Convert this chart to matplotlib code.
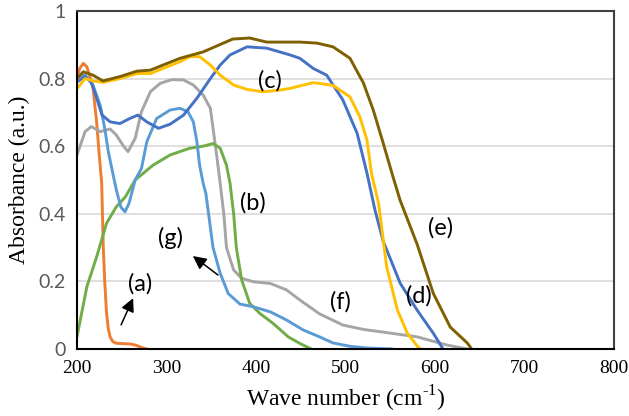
import numpy as np
import matplotlib.pyplot as plt

# Absorbance spectra, one curve per sample
xa = [200, 203, 207, 211, 215, 218, 222, 225, 227.6, 229.4, 231, 233, 235, 237, 240, 244, 259, 265, 270, 275, 278]
ya = [0.80, 0.83, 0.845, 0.835, 0.80, 0.77, 0.67, 0.57, 0.49, 0.30, 0.20, 0.106, 0.06, 0.036, 0.022, 0.017, 0.015, 0.012, 0.007, 0.002, 0]

xb = [200, 209, 218, 226, 231, 235, 240, 244, 249, 253.6, 258, 265, 272, 278, 289, 304, 315, 324, 330, 334, 337,
      341, 344, 347, 352, 360, 369, 382, 397, 416, 434, 453, 471, 486, 505, 524, 553]
yb = [0.805, 0.81, 0.78, 0.72, 0.653, 0.584, 0.52, 0.47, 0.42, 0.406, 0.43, 0.5, 0.534, 0.613, 0.682, 0.707, 0.712, 0.702, 0.672, 0.613, 0.544,
      0.49, 0.46, 0.40, 0.30, 0.224, 0.164, 0.133, 0.125, 0.11, 0.086, 0.056, 0.036, 0.018, 0.008, 0.003, 0]

xc = [200, 209, 218, 229, 248, 267, 282, 296, 315, 326, 337, 349, 360, 375, 390, 408, 427, 438, 464, 486, 505, 516,
      524, 529, 537, 546, 558, 569, 581, 584]
yc = [0.77, 0.80, 0.793, 0.789, 0.80, 0.815, 0.815, 0.83, 0.85, 0.865, 0.865, 0.84, 0.81, 0.781, 0.768, 0.761, 0.766, 0.771, 0.788, 0.78, 0.746, 0.687,
      0.618, 0.52, 0.43, 0.243, 0.115, 0.047, 0.006, 0]

xd = [200, 209, 216, 222, 228, 237, 248, 259, 268, 278, 291, 304, 319, 334, 349, 360, 371, 390, 412, 438, 449, 464,
      479, 497, 513, 524, 533, 542, 561, 580, 598, 609]
yd = [0.79, 0.806, 0.79, 0.742, 0.692, 0.672, 0.667, 0.682, 0.692, 0.672, 0.653, 0.665, 0.692, 0.742, 0.80, 0.84, 0.87, 0.894, 0.89, 0.87, 0.86, 0.83,
      0.81, 0.737, 0.638, 0.52, 0.41, 0.32, 0.195, 0.115, 0.047, 0]

xe = [200, 207, 218, 229, 248, 267, 282, 296, 315, 341, 374, 393, 412, 449, 468, 486, 505, 520, 531, 542, 553, 561,
      580, 598, 617, 636, 641]
ye = [0.80, 0.82, 0.81, 0.793, 0.806, 0.822, 0.825, 0.84, 0.86, 0.879, 0.917, 0.92, 0.908, 0.908, 0.905, 0.894, 0.86, 0.787, 0.707, 0.61, 0.51, 0.44,
      0.31, 0.165, 0.065, 0.018, 0]

xf = [200, 209, 216, 226, 237, 244, 252, 257, 265, 272, 282, 293, 306, 319, 330, 341, 349, 352, 356, 360, 364, 367,
      375, 384, 397, 416, 434, 449, 471, 497, 520, 542, 580, 613, 636]
yf = [0.574, 0.643, 0.658, 0.643, 0.651, 0.633, 0.60, 0.584, 0.623, 0.702, 0.761, 0.786, 0.797, 0.796, 0.781, 0.751, 0.712, 0.653, 0.574, 0.49, 0.40, 0.30,
      0.234, 0.209, 0.199, 0.194, 0.175, 0.145, 0.104, 0.071, 0.058, 0.05, 0.036, 0.012, 0]

xg = [200, 211, 222, 233, 244, 254, 265, 285, 304, 326, 341, 352, 360, 367, 371, 375, 378, 384, 393, 404, 419, 436,
      450, 462]
yg = [0.036, 0.184, 0.273, 0.372, 0.421, 0.45, 0.50, 0.544, 0.574, 0.594, 0.60, 0.608, 0.594, 0.544, 0.49, 0.40, 0.30, 0.204, 0.135, 0.106, 0.076, 0.036,
      0.015, 0]

series = [
    (xa, ya, '#ED7D31'),
    (xf, yf, '#A5A5A5'),
    (xg, yg, '#70AD47'),
    (xb, yb, '#5B9BD5'),
    (xd, yd, '#4472C4'),
    (xc, yc, '#FFC000'),
    (xe, ye, '#7F6000'),
]

labels = ['(a)', '(b)', '(c)', '(d)', '(e)', '(f)', '(g)']
label_x = [270, 397, 416, 582, 606, 494, 305]
label_y = [0.194, 0.432, 0.793, 0.157, 0.358, 0.139, 0.33]

plt.rcParams['mathtext.fontset'] = 'custom'
plt.rcParams['mathtext.rm'] = 'Liberation Serif'

fig = plt.figure(figsize=(6.29, 4.16), dpi=100)
ax = fig.add_axes([0.1224, 0.161, 0.8538, 0.8126])

for x, y, c in series:
    ax.plot(x, y, color=c, lw=2.1, solid_capstyle='round', solid_joinstyle='round')

for t, lx, ly in zip(labels, label_x, label_y):
    ax.text(lx, ly, t, fontsize=17, family='Lato', ha='center', va='center', color='black')

# arrows pointing at (a) and (g)
ax.annotate('', xy=(264, 0.158), xytext=(248, 0.064),
            arrowprops=dict(arrowstyle='-|>', color='black', lw=1.1, mutation_scale=20))
ax.annotate('', xy=(327, 0.28), xytext=(360, 0.214),
            arrowprops=dict(arrowstyle='-|>', color='black', lw=1.1, mutation_scale=20))

ax.set_xlim(200, 800)
ax.set_ylim(0, 1)
ax.set_xticks([200, 300, 400, 500, 600, 700, 800])
ax.set_yticks([0, 0.2, 0.4, 0.6, 0.8, 1])
ax.set_yticklabels(['0', '0.2', '0.4', '0.6', '0.8', '1'])
ax.tick_params(length=0, pad=8)
for lab in ax.get_yticklabels():
    lab.set_family('Lato')
    lab.set_fontsize(14)
    lab.set_color('#595959')
for lab in ax.get_xticklabels():
    lab.set_family('Liberation Serif')
    lab.set_fontsize(14)
    lab.set_color('black')

ax.grid(axis='y', color='#D9D9D9', lw=1.2)
ax.set_axisbelow(True)
for s in ['left', 'bottom']:
    ax.spines[s].set_color('black')
    ax.spines[s].set_linewidth(1.5)
for s in ['top', 'right']:
    ax.spines[s].set_color('#404040')
    ax.spines[s].set_linewidth(1.5)

ax.set_xlabel('Wave number (cm$^{\\text{-1}}$)', family='Liberation Serif', fontsize=17, labelpad=5)
ax.set_ylabel('Absorbance (a.u.)', family='Liberation Serif', fontsize=17, labelpad=6)

fig.savefig('out.png', dpi=100)
